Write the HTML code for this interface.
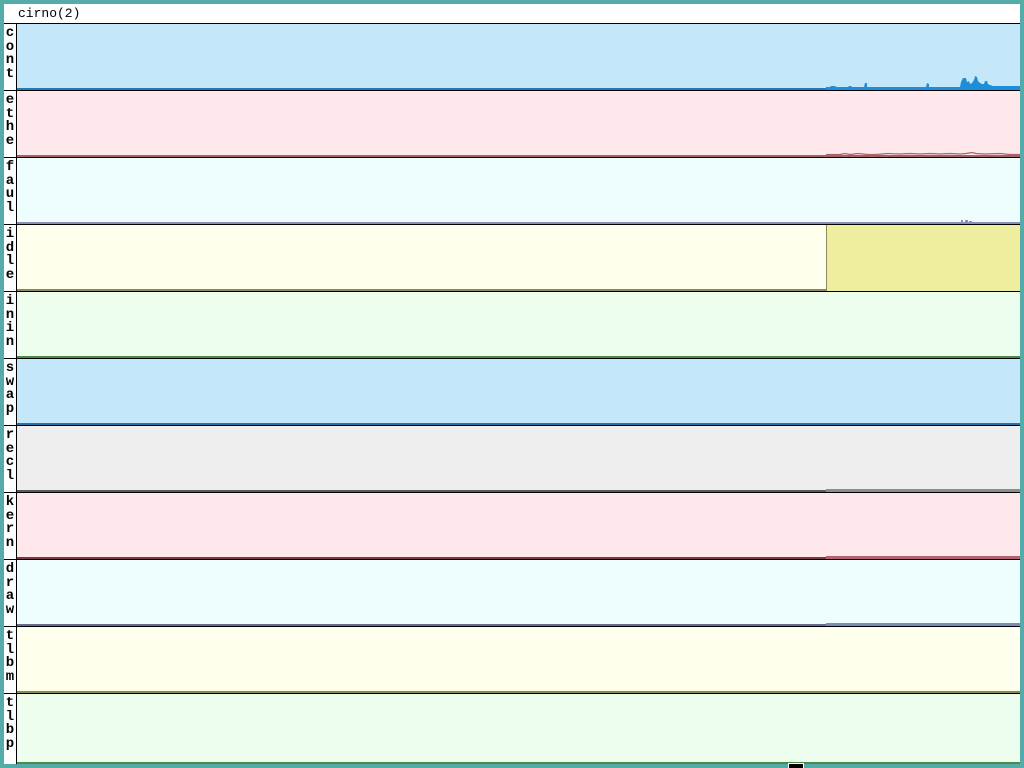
<!DOCTYPE html>
<html>
<head>
<meta charset="utf-8">
<style>
html,body{margin:0;padding:0;background:#55AAAA;width:1024px;height:768px;overflow:hidden;}
svg{display:block;}
text{font-family:"Liberation Mono","DejaVu Sans Mono",monospace;}
</style>
</head>
<body>
<svg width="1024" height="768" viewBox="0 0 1024 768" xmlns="http://www.w3.org/2000/svg" shape-rendering="crispEdges">
  <rect x="0" y="0" width="1024" height="768" fill="#55AAAA"/>
  <rect x="4" y="4" width="1016" height="760" fill="#FFFFFF"/>
  <text x="18" y="17" font-size="13" fill="#000">cirno(2)</text>
  <rect x="4" y="23" width="1016" height="1" fill="#000"/>
  <rect x="16" y="23" width="1" height="741" fill="#000"/>

  <!-- row 0 cont -->
  <rect x="17" y="24" width="1003" height="66" fill="#C4E8FA"/>
  <rect x="17" y="88" width="809" height="2" fill="#2A78B0"/>
  <!-- row 1 ethe -->
  <rect x="17" y="91" width="1003" height="66" fill="#FFE8EC"/>
  <rect x="17" y="155" width="1003" height="2" fill="#A06468"/>
  <!-- row 2 faul -->
  <rect x="17" y="158" width="1003" height="66" fill="#EEFEFF"/>
  <rect x="17" y="222" width="1003" height="2" fill="#8C8CB4"/>
  <!-- row 3 idle -->
  <rect x="17" y="225" width="1003" height="66" fill="#FFFFEE"/>
  <rect x="17" y="289" width="809" height="2" fill="#8A8A5C"/>
  <rect x="827" y="225" width="193" height="66" fill="#EEEE9E"/>
  <rect x="826" y="225" width="1" height="66" fill="#8A8A5C"/>
  <!-- row 4 inin -->
  <rect x="17" y="292" width="1003" height="66" fill="#EEFEEE"/>
  <rect x="17" y="356" width="1003" height="2" fill="#4A8A4A"/>
  <!-- row 5 swap -->
  <rect x="17" y="359" width="1003" height="66" fill="#C4E8FA"/>
  <rect x="17" y="423" width="1003" height="2" fill="#2A70A8"/>
  <!-- row 6 recl -->
  <rect x="17" y="426" width="1003" height="66" fill="#EEEEEE"/>
  <rect x="17" y="490" width="809" height="2" fill="#5A5A5A"/>
  <rect x="826" y="489" width="194" height="3" fill="#8C8C8C"/>
  <!-- row 7 kern -->
  <rect x="17" y="493" width="1003" height="66" fill="#FFE8EC"/>
  <rect x="17" y="557" width="809" height="2" fill="#7A3A44"/>
  <rect x="826" y="556" width="194" height="3" fill="#B46070"/>
  <!-- row 8 draw -->
  <rect x="17" y="560" width="1003" height="66" fill="#EEFEFF"/>
  <rect x="17" y="624" width="809" height="2" fill="#6A6A90"/>
  <rect x="826" y="623" width="194" height="3" fill="#7A8CB8"/>
  <!-- row 9 tlbm -->
  <rect x="17" y="627" width="1003" height="66" fill="#FFFFEE"/>
  <rect x="17" y="691" width="1003" height="2" fill="#8A8A50"/>
  <!-- row 10 tlbp -->
  <rect x="17" y="694" width="1003" height="70" fill="#EEFEEE"/>
  <rect x="17" y="762" width="1003" height="2" fill="#4A8A4A"/>

  <!-- cont data -->
  <rect x="826" y="87" width="194" height="3" fill="#1E8ED8"/>
  <polygon fill="#1E8ED8" shape-rendering="auto" points="
    826,90 826,87 830,87 831,86 835,86 836,87 848,87 849,86 851,86 852,87 864,87 865,83 867,83 867,87
    926,87 927,83 929,84 929,87 960,87 961,82 963,78 966,78 967,82 969,81 970,84 972,83 974,80 975,76 977,77 978,81 980,83 982,84 984,84
    985,81 987,81 988,84 990,85 993,86 1020,86 1020,90"/>
  <!-- ethe data -->
  <polyline fill="none" stroke="#B06068" stroke-width="1.2" shape-rendering="auto" points="
    826,154.5 840,154.5 845,153.5 850,154.5 858,153.5 868,154.5 876,154.5 888,153.5 900,154 910,153.5 920,154 930,153.5 940,154 950,153.5 960,154 966,153.5 972,152.5 976,153.5 985,154 1000,153.5 1010,154.5 1020,154.5"/>
  <!-- faul data bump -->
  <rect x="961" y="220" width="2" height="2" fill="#8C8CB4"/>
  <rect x="965" y="220" width="3" height="2" fill="#8C8CB4"/>
  <rect x="969" y="221" width="3" height="1" fill="#8C8CB4"/>

  <!-- row separators -->
  <rect x="4" y="90" width="1016" height="1" fill="#000"/>
  <rect x="4" y="157" width="1016" height="1" fill="#000"/>
  <rect x="4" y="224" width="1016" height="1" fill="#000"/>
  <rect x="4" y="291" width="1016" height="1" fill="#000"/>
  <rect x="4" y="358" width="1016" height="1" fill="#000"/>
  <rect x="4" y="425" width="1016" height="1" fill="#000"/>
  <rect x="4" y="492" width="1016" height="1" fill="#000"/>
  <rect x="4" y="559" width="1016" height="1" fill="#000"/>
  <rect x="4" y="626" width="1016" height="1" fill="#000"/>
  <rect x="4" y="693" width="1016" height="1" fill="#000"/>

  <!-- labels -->
  <g font-size="14" font-weight="bold" fill="#000" text-anchor="middle">
    <text x="10" y="36">c</text><text x="10" y="50">o</text><text x="10" y="63">n</text><text x="10" y="77">t</text>
    <text x="10" y="103">e</text><text x="10" y="117">t</text><text x="10" y="130">h</text><text x="10" y="144">e</text>
    <text x="10" y="170">f</text><text x="10" y="184">a</text><text x="10" y="197">u</text><text x="10" y="211">l</text>
    <text x="10" y="237">i</text><text x="10" y="251">d</text><text x="10" y="264">l</text><text x="10" y="278">e</text>
    <text x="10" y="304">i</text><text x="10" y="318">n</text><text x="10" y="331">i</text><text x="10" y="345">n</text>
    <text x="10" y="371">s</text><text x="10" y="385">w</text><text x="10" y="398">a</text><text x="10" y="412">p</text>
    <text x="10" y="438">r</text><text x="10" y="452">e</text><text x="10" y="465">c</text><text x="10" y="479">l</text>
    <text x="10" y="505">k</text><text x="10" y="519">e</text><text x="10" y="532">r</text><text x="10" y="546">n</text>
    <text x="10" y="572">d</text><text x="10" y="586">r</text><text x="10" y="599">a</text><text x="10" y="613">w</text>
    <text x="10" y="639">t</text><text x="10" y="653">l</text><text x="10" y="666">b</text><text x="10" y="680">m</text>
    <text x="10" y="706">t</text><text x="10" y="720">l</text><text x="10" y="733">b</text><text x="10" y="747">p</text>
  </g>

  <rect x="788" y="763" width="16" height="5" fill="#FFFFFF"/>
  <rect x="789" y="764" width="14" height="4" fill="#000"/>
</svg>
</body>
</html>
